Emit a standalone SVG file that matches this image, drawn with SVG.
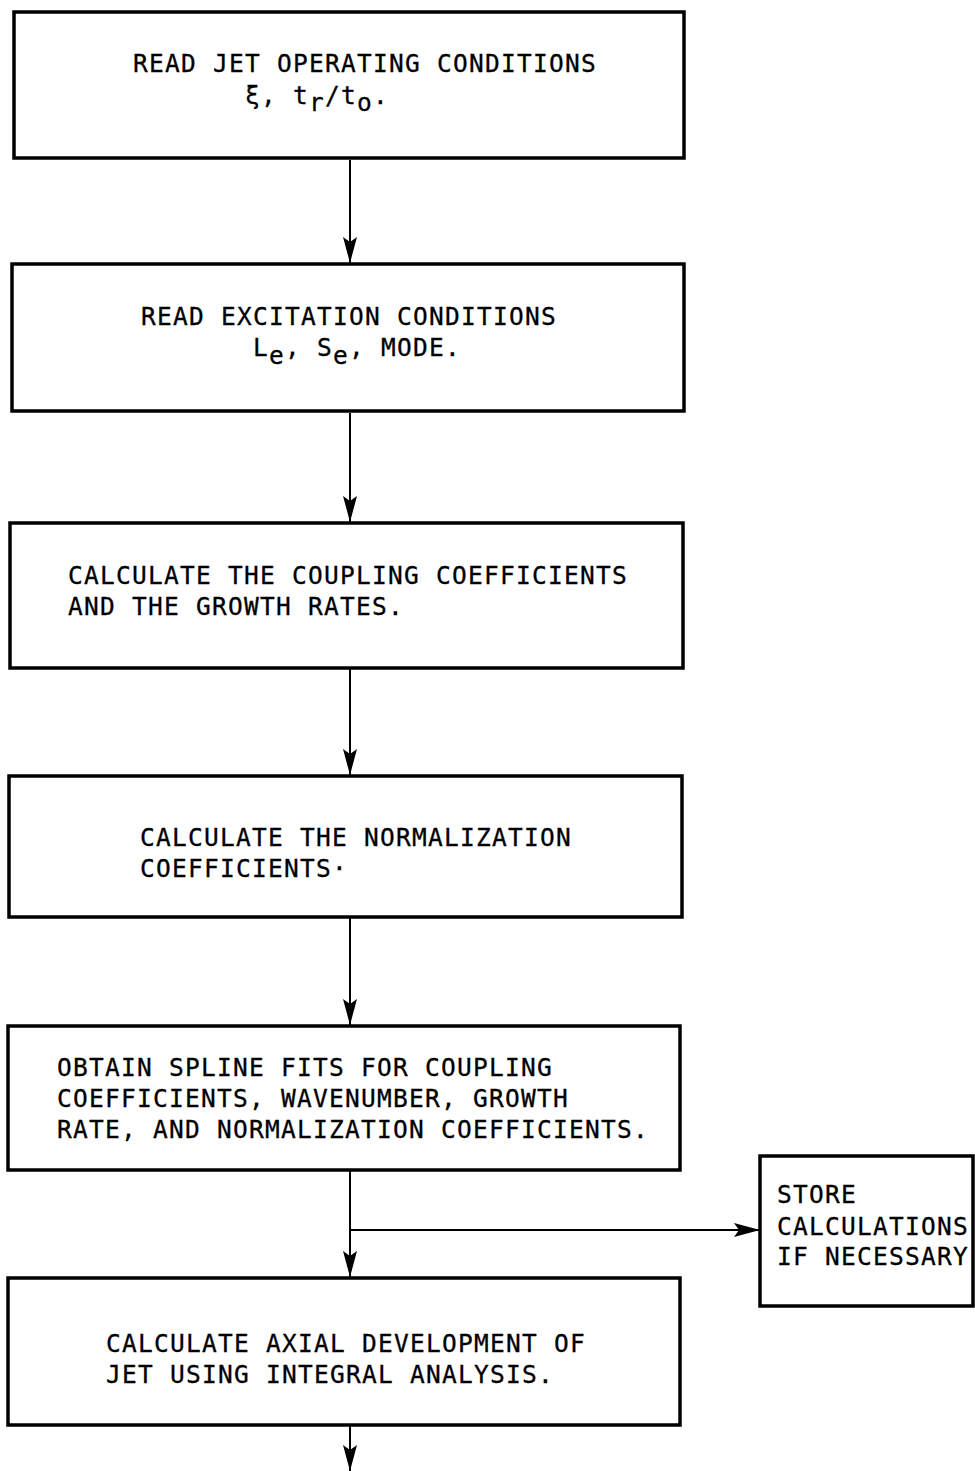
<svg xmlns="http://www.w3.org/2000/svg" width="975" height="1471" viewBox="0 0 975 1471">
<style>
.box{fill:#fff;stroke:#000;stroke-width:3.5}
.t{font-family:"DejaVu Sans Mono",monospace;font-size:24.5px;letter-spacing:1.25px;fill:#000;stroke:#000;stroke-width:0.3}
.c{stroke:#000;stroke-width:2;fill:none}
</style>
<defs>
<marker id="ah" markerUnits="userSpaceOnUse" viewBox="0 0 26 14" markerWidth="26" markerHeight="14" refX="26" refY="7" orient="auto">
<path d="M0,0 L26,7 L0,14 L5,7 Z" fill="#000"/>
</marker>
</defs>
<rect width="975" height="1471" fill="#fff"/>
<g id="connectors">
<line class="c" x1="350" y1="160" x2="350" y2="263" marker-end="url(#ah)"/>
<line class="c" x1="350" y1="413" x2="350" y2="522" marker-end="url(#ah)"/>
<line class="c" x1="350" y1="668" x2="350" y2="775" marker-end="url(#ah)"/>
<line class="c" x1="350" y1="917" x2="350" y2="1025" marker-end="url(#ah)"/>
<line class="c" x1="350" y1="1170" x2="350" y2="1277" marker-end="url(#ah)"/>
<line class="c" x1="350" y1="1230" x2="760" y2="1230" marker-end="url(#ah)"/>
<line class="c" x1="350" y1="1425" x2="350" y2="1471" marker-end="url(#ah)"/>
</g>
<g id="n1">
<rect class="box" x="14" y="12" width="670" height="146"/>
<text class="t" x="133" y="72">READ JET OPERATING CONDITIONS</text>
<text class="t" x="245" y="104">ξ, t<tspan dy="7">r</tspan><tspan dy="-7">/t</tspan><tspan dy="7">o</tspan><tspan dy="-7">.</tspan></text>
</g>
<g id="n2">
<rect class="box" x="12" y="264" width="672" height="147"/>
<text class="t" x="141" y="325">READ EXCITATION CONDITIONS</text>
<text class="t" x="253" y="356">L<tspan dy="8">e</tspan><tspan dy="-8">, S</tspan><tspan dy="8">e</tspan><tspan dy="-8">, MODE.</tspan></text>
</g>
<g id="n3">
<rect class="box" x="10" y="523" width="673" height="145"/>
<text class="t" x="68" y="584">CALCULATE THE COUPLING COEFFICIENTS</text>
<text class="t" x="68" y="615">AND THE GROWTH RATES.</text>
</g>
<g id="n4">
<rect class="box" x="9" y="776" width="673" height="141"/>
<text class="t" x="140" y="846">CALCULATE THE NORMALIZATION</text>
<text class="t" x="140" y="877">COEFFICIENTS·</text>
</g>
<g id="n5">
<rect class="box" x="8" y="1026" width="672" height="144"/>
<text class="t" x="57" y="1076">OBTAIN SPLINE FITS FOR COUPLING</text>
<text class="t" x="57" y="1107">COEFFICIENTS, WAVENUMBER, GROWTH</text>
<text class="t" x="57" y="1138">RATE, AND NORMALIZATION COEFFICIENTS.</text>
</g>
<g id="n6">
<rect class="box" x="8" y="1278" width="672" height="147"/>
<text class="t" x="106" y="1352">CALCULATE AXIAL DEVELOPMENT OF</text>
<text class="t" x="106" y="1383">JET USING INTEGRAL ANALYSIS.</text>
</g>
<g id="n7">
<rect class="box" x="760" y="1156" width="213" height="150"/>
<text class="t" x="777" y="1203">STORE</text>
<text class="t" x="777" y="1235">CALCULATIONS</text>
<text class="t" x="777" y="1265">IF NECESSARY</text>
</g>
</svg>
